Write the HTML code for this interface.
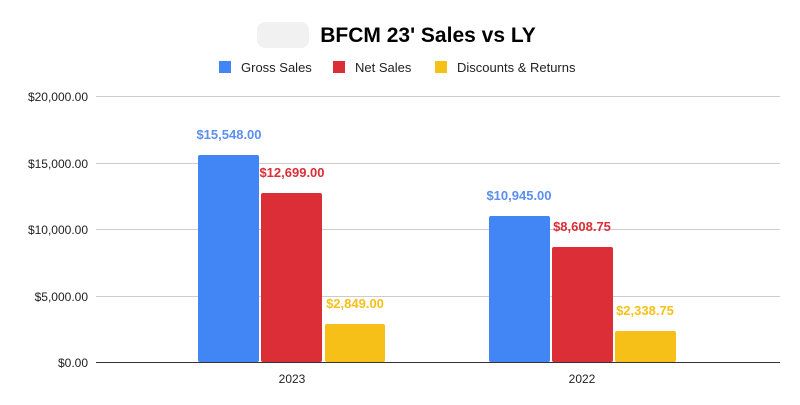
<!DOCTYPE html>
<html><head><style>body{margin:0;background:#fff}svg{display:block}</style></head><body>
<svg width="800" height="405" xmlns="http://www.w3.org/2000/svg" font-family="Liberation Sans, Arial, sans-serif">
<rect width="800" height="405" fill="#fff"/>
<rect x="257" y="22" width="52" height="26" rx="8" fill="#f1f1f1"/>
<text x="428" y="42" font-size="21" font-weight="bold" text-anchor="middle" fill="#000">BFCM 23' Sales vs LY</text>
<rect x="219" y="61" width="12" height="12" fill="#4285f4"/>
<text x="241" y="72" font-size="13" fill="#222">Gross Sales</text>
<rect x="333" y="61" width="12" height="12" fill="#db2e37"/>
<text x="355" y="72" font-size="13" fill="#222">Net Sales</text>
<rect x="435" y="61" width="12" height="12" fill="#f6c018"/>
<text x="457" y="72" font-size="13" fill="#222">Discounts &amp; Returns</text>
<g stroke="#ccc" stroke-width="1">
<line x1="96" x2="780" y1="96.5" y2="96.5"/><line x1="96" x2="780" y1="163.5" y2="163.5"/>
<line x1="96" x2="780" y1="229.5" y2="229.5"/><line x1="96" x2="780" y1="296.5" y2="296.5"/>
</g>
<g font-size="12" fill="#222" text-anchor="end">
<text x="88" y="101">$20,000.00</text><text x="88" y="168">$15,000.00</text>
<text x="88" y="234">$10,000.00</text><text x="88" y="301">$5,000.00</text>
<text x="88" y="367">$0.00</text>
</g>
<rect x="198" y="155" width="61" height="207" rx="2" fill="#4285f4"/>
<rect x="261" y="193" width="61" height="169" rx="2" fill="#db2e37"/>
<rect x="325" y="324" width="60" height="38" rx="2" fill="#f6c018"/>
<rect x="489" y="216" width="61" height="146" rx="2" fill="#4285f4"/>
<rect x="552" y="247" width="61" height="115" rx="2" fill="#db2e37"/>
<rect x="615" y="331" width="61" height="31" rx="2" fill="#f6c018"/>
<line x1="96" x2="780" y1="362.5" y2="362.5" stroke="#333"/>
<g font-size="13" font-weight="bold" text-anchor="middle">
<text x="229" y="139" fill="#5b8ff0">$15,548.00</text>
<text x="292" y="177" fill="#db2e37">$12,699.00</text>
<text x="355" y="308" fill="#f6c018">$2,849.00</text>
<text x="519" y="200" fill="#5b8ff0">$10,945.00</text>
<text x="582" y="231" fill="#db2e37">$8,608.75</text>
<text x="645" y="315" fill="#f6c018">$2,338.75</text>
</g>
<g font-size="12" fill="#222" text-anchor="middle">
<text x="292" y="383">2023</text><text x="582" y="383">2022</text>
</g>
</svg>
</body></html>
